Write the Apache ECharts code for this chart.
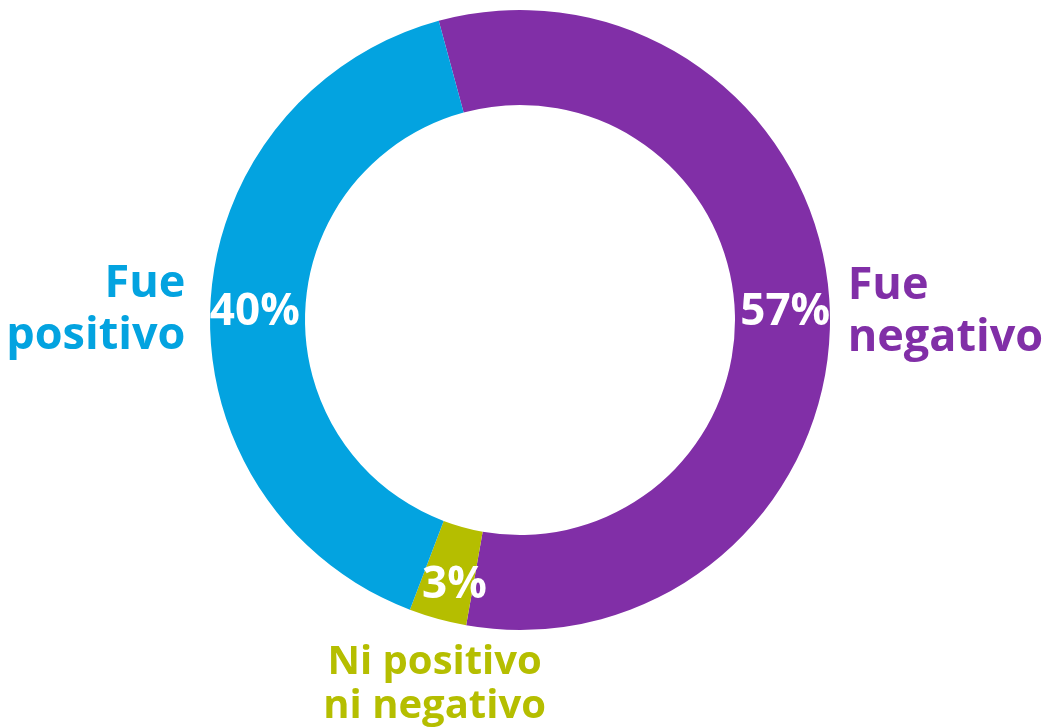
<!DOCTYPE html>
<html>
<head>
<meta charset="utf-8">
<script src="https://cdn.jsdelivr.net/npm/echarts@6/dist/echarts.min.js"></script>
<style>
html,body{margin:0;padding:0;background:#fff;}
#chart{width:1051px;height:727px;}
</style>
</head>
<body>
<div id="chart"></div>
<script>
var categories = ['Fue\nnegativo', 'Ni positivo\nni negativo', 'Fue\npositivo'];
var values = [57, 3, 40];
var colors = ['#812FA7', '#B5BE00', '#03A3E0'];

var chart = echarts.init(document.getElementById('chart'));
var FONT = '"Open Sans", "Noto Sans", sans-serif';

var ringData = categories.map(function (c, i) {
  return { name: c, value: values[i], itemStyle: { color: colors[i] } };
});
var lineLens = [13, 68, 25];
var labelData = categories.map(function (c, i) {
  return {
    name: c, value: values[i],
    label: { color: colors[i], fontSize: i === 1 ? 40 : 45, lineHeight: i === 1 ? 44 : 52 },
    labelLine: { length: lineLens[i], length2: 0 }
  };
});

chart.setOption({
  animation: false,
  series: [
    {
      type: 'pie',
      center: [520, 320],
      radius: [215, 310],
      startAngle: 105.2,
      clockwise: true,
      silent: true,
      itemStyle: { borderWidth: 0 },
      label: {
        show: true,
        position: 'inside',
        formatter: '{c}%',
        color: '#fff',
        fontFamily: FONT,
        fontWeight: 'bold',
        fontSize: 44
      },
      labelLine: { show: false },
      labelLayout: function (p) {
        if (p.dataIndex === 1) return { dx: 5, dy: 10 };
        return { dy: 5 };
      },
      data: ringData
    },
    {
      type: 'pie',
      center: [520, 320],
      radius: [215, 310],
      startAngle: 105.2,
      clockwise: true,
      silent: true,
      itemStyle: { color: 'rgba(0,0,0,0)' },
      label: {
        show: true,
        position: 'outside',
        formatter: '{b}',
        fontFamily: FONT,
        fontWeight: 'bold',
        distanceToLabelLine: 5,
        bleedMargin: 0,
        overflow: 'none'
      },
      labelLine: { show: false },
      labelLayout: function (p) {
        if (p.dataIndex === 1) return { align: 'center', dx: 20, dy: 3 };
        return { dy: 7 };
      },
      data: labelData
    }
  ]
});
</script>
</body>
</html>
